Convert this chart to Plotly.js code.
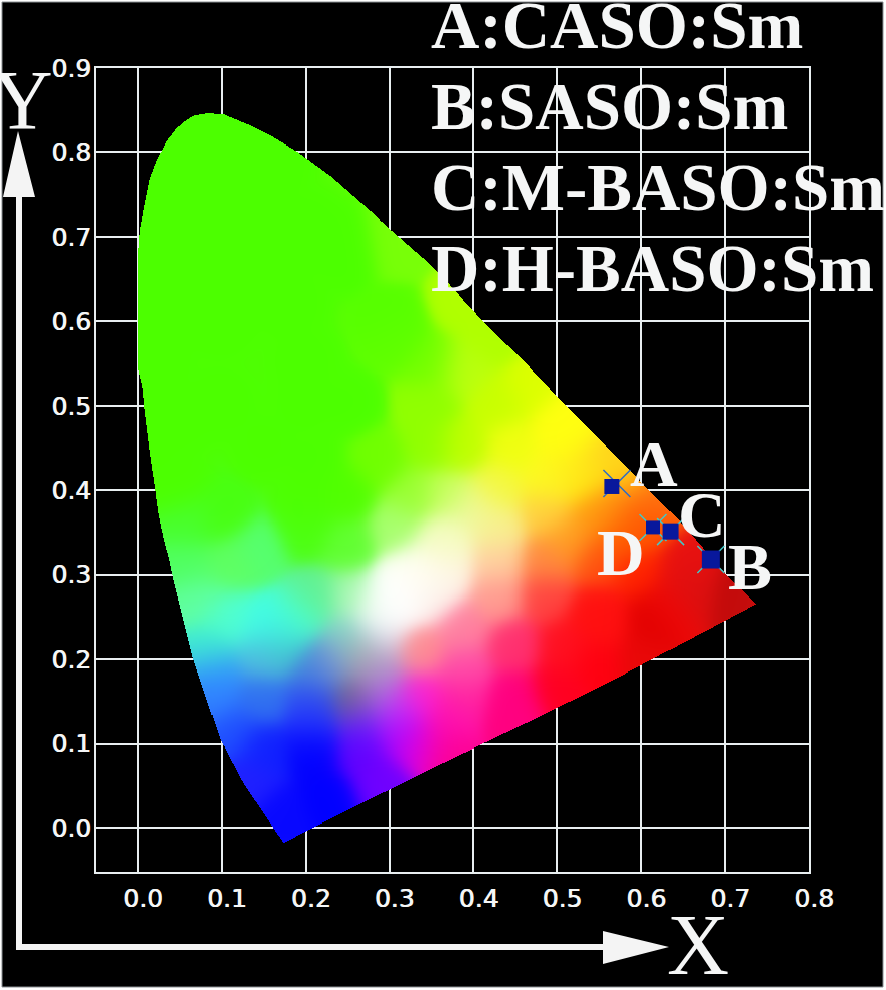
<!DOCTYPE html>
<html>
<head>
<meta charset="utf-8">
<script src="https://cdn.plot.ly/plotly-3.0.1.min.js"></script>
<style>
  html, body { margin: 0; padding: 0; background: #fff; overflow: hidden; }
  #chart { width: 886px; height: 990px; }
</style>
</head>
<body>
<div id="chart"></div>
<script>
// Outline of the colour region (clockwise from the top)
const outlineX = [.082,.101,.130,.157,.190,.230,.269,.301,.340,.372,.411,.459,.499,.553,.608,.646,.706,.737,
  .563,.467,.364,.244,.173,.125,.098,.066,.044,.037,.030,.024,.020,.014,.008,.005,.000,.000,.000,.002,.008,.014,.023,.035,.046,.054,.066];
const outlineY = [.846,.845,.833,.820,.800,.771,.737,.708,.674,.642,.600,.553,.511,.457,.401,.362,.294,.265,
  .173,.126,.077,.018,-.018,.053,.104,.199,.286,.318,.345,.374,.404,.445,.492,.523,.543,.626,.682,.707,.739,.769,.792,.814,.828,.835,.843];

// Colours at positions in chart units
const sampleX = [.08,.02,.20,.10,.30,.02,.15,.25,.05,.309,.309,.348,.387,.387,.428,.507,
  .209,.288,.348,.387,.447,.507,.535,.487,.428,.368,.328,.249,.249,.309,.368,.428,.487,.547,.547,.487,.428,.368,
  .309,.288,.348,.256,.209,.19,.173,.249,.268,.288,.336,.387,.428,.487,.547,.387,.447,.507,.547,.499,.447,.387,.336,.309,
  .256,.209,.173,.232,.288,.288,.209,.268,.368,.447,
  .110,.070,.110,.149,.082,.089,.149,.089,.149,.209,.110,.149,.209,.268,.309,.336,.368,.169,.229,.288,.130,
  .714,.73,.654,.634,.554,.595,.575,.595,.566,.602,.515,.515,.547,.61,.66,.60,
  .143,.06,.20,.05,.15,.25,.05,.18,.05,.10,.20,.35,.42,.47,.52,.58,.20,.10,.13,.03,.10,.20,.01,.06,
  .33,.36,.40,.32,.30,.34];
const sampleY = [.80,.70,.70,.60,.60,.55,.45,.50,.40,.581,.69,.502,.541,.62,.502,.482,
  .433,.433,.452,.452,.452,.452,.413,.413,.401,.393,.393,.393,.333,.354,.345,.354,.373,.373,.314,.314,.314,.302,
  .274,.255,.274,.274,.274,.25,.238,.226,.203,.226,.208,.235,.274,.274,.255,.187,.215,.215,.196,.164,.155,.155,.155,.136,
  .152,.187,.215,.196,.187,.155,.125,.125,.125,.125,
  .310,.270,.250,.238,.211,.184,.203,.152,.152,.152,.113,.093,.093,.093,.113,.101,.093,.013,.033,.053,.053,
  .274,.27,.302,.262,.243,.302,.342,.362,.381,.389,.342,.421,.437,.247,.28,.20,
  .326,.31,.35,.75,.78,.68,.62,.62,.48,.50,.55,.55,.58,.52,.47,.42,.38,.37,.66,.62,.72,.50,.45,.36,
  .30,.33,.375,.285,.265,.30];
const sampleColor = ["4cff00","4cff00","4cff00","4cff00","55ff00","4cff00","4cff00","4cff00","4cff00","60ff00","78ff08","90ff00","bbff10","b0ff00","c8ff00","ffff10",
  "4cff00","70ff00","90ff00","c0ff00","f0ff10","ffff10","ffee10","fcfc20","f4f840","c8ff60","98ff30","50ff00","60ff30","a8ff70","f4fcc0","f8f090","ffd040","ff9a10","ff5010","ff8a40","ffd0a0","fff4e8",
  "ffffff","f8fff8","fbeeea","a8f8b0","60f090","50ffc0","40ffe8","80d8c8","a0a0a0","e0e0f0","ff8c90","ff80a0","ff9a90","ff4040","ff1010","ff50a8","ff3070","ff1020","ff0010","ff0020","ff0080","ff20a0","ff20d0","c030ff",
  "706880","4080e0","40c0c8","8098d0","b090d0","b070e0","2030ff","6020ff","ff10b0","ff0080",
  "60ff60","60ffa0","50ffd0","40ffe8","40f0d0","3090ff","50b8e0","3080ff","3070f0","3050f0","2050ff","1020ff","0000ff","6000ff","a800ff","e000e0","ff0090","0808ff","0000ff","7000ff","2020ff",
  "c00808","c81010","e81010","f00808","ff1010","ff2000","ff6000","ff5000","ff8a10","ff7010","ffa020","ffe820","ffd020","e00000","d81010","e80808",
  "55ff70","50ff60","4cff10","4cff00","4cff00","4cff00","4cff00","4cff00","4cff00","4cff00","4cff00","70ff00","b0ff00","dcff00","ffff10","ffd818","4cff00","48ff10","4cff00","4cff00","4cff00","4cff00","4cff00","48ff30",
  "fffef0","f8fcc8","f0f8a0","ffffff","ffffff","fffff0"];

// The four marked compositions
const pointLabels = ["A", "B", "C", "D"];
const pointX = [0.565, 0.683, 0.635, 0.614];
const pointY = [0.4045, 0.318, 0.351, 0.356];
const crossX = [0.571, 0.683, 0.635, 0.614];
const crossY = [0.408, 0.318, 0.351, 0.356];
const squareSizes = [15, 18, 16, 14];
const crossColors = ["#2a6cc8", "#40c8c8", "#40c8c8", "#40c8c8"];

const legendLines = ["A:CASO:Sm", "B:SASO:Sm", "C:M-BASO:Sm", "D:H-BASO:Sm"];
const tickValues = [0, 0.1, 0.2, 0.3, 0.4, 0.5, 0.6, 0.7, 0.8, 0.9];
const tickLabels = ["0.0", "0.1", "0.2", "0.3", "0.4", "0.5", "0.6", "0.7", "0.8", "0.9"];

const W = 886, H = 990;
const M = { l: 96, r: 77, t: 68, b: 118 };
const lineColor = "#e8eef0";
const textColor = "#f5f6f6";

// page pixels -> paper units
const px = (x) => (x - M.l) / (W - M.l - M.r);
const py = (y) => (H - M.b - y) / (H - M.t - M.b);

function inside(x, y) {
  let hit = false;
  for (let i = 0, j = outlineX.length - 1; i < outlineX.length; j = i++) {
    if ((outlineY[i] > y) !== (outlineY[j] > y) &&
        x < (outlineX[j] - outlineX[i]) * (y - outlineY[i]) / (outlineY[j] - outlineY[i]) + outlineX[i]) {
      hit = !hit;
    }
  }
  return hit;
}

const sampleRgb = sampleColor.map((c) => [parseInt(c.slice(0, 2), 16), parseInt(c.slice(2, 4), 16), parseInt(c.slice(4, 6), 16)]);

// Blend the sampled colours for one cell of the image
const spread = 2 * 0.02 * 0.02;
function shade(x, y) {
  let r = 0, g = 0, b = 0, sum = 0;
  for (let k = 0; k < sampleX.length; k++) {
    const dx = x - sampleX[k], dy = y - sampleY[k];
    const d2 = dx * dx + dy * dy;
    const w = Math.exp(-d2 / spread) + 1e-7 / (d2 * d2 + 1e-4);
    r += w * sampleRgb[k][0];
    g += w * sampleRgb[k][1];
    b += w * sampleRgb[k][2];
    sum += w;
  }
  return [r / sum, g / sum, b / sum, 1];
}

const cell = 0.0012;
const x0 = -0.002, y0 = -0.022;
const cols = 620, rows = 730;
const z = [];
for (let i = 0; i < rows; i++) {
  const row = [];
  const y = y0 + i * cell;
  for (let j = 0; j < cols; j++) {
    const x = x0 + j * cell;
    row.push(inside(x, y) ? shade(x, y) : [0, 0, 0, 0]);
  }
  z.push(row);
}

const gamut = { type: "image", z: z, colormodel: "rgba", x0: x0, y0: y0, dx: cell, dy: cell, hoverinfo: "skip" };

const crosses = {
  type: "scatter", mode: "markers", x: crossX, y: crossY, text: pointLabels, hoverinfo: "skip",
  marker: { symbol: "x-thin", size: 27, opacity: 1, line: { width: 1.5, color: crossColors } }
};

const squares = {
  type: "scatter", mode: "markers", x: pointX, y: pointY, text: pointLabels, hoverinfo: "skip",
  marker: { symbol: "square", size: squareSizes, opacity: 1, color: "#08189c", line: { width: 0 } }
};

const serif = (size) => ({ family: "Liberation Serif", size: size, color: textColor });

function textAt(text, x, baseline, size, weight) {
  // middle anchor: shift from baseline to the centre of the text box
  return {
    text: weight ? "<b>" + text + "</b>" : text,
    xref: "paper", yref: "paper", x: px(x), y: py(baseline - size * 0.345),
    xanchor: "left", yanchor: "middle", showarrow: false, font: serif(size), borderpad: 0
  };
}

const annotations = [
  textAt(legendLines[0], 430, 48, 67, true),
  textAt(legendLines[1], 430, 129, 67, true),
  textAt(legendLines[2], 430, 210, 67, true),
  textAt(legendLines[3], 430, 291, 67, true),
  textAt(pointLabels[0], 629, 486, 66, true),
  textAt(pointLabels[1], 727, 589, 66, true),
  textAt(pointLabels[2], 677, 537, 66, true),
  textAt(pointLabels[3], 596, 575, 66, true),
  textAt("X", 666, 975, 86, false),
  textAt("Y", -9, 129, 84, false)
];

function polygon(points) {
  return "M" + points.map((p) => px(p[0]) + "," + py(p[1])).join("L") + "Z";
}

const arrowShape = (points) => ({
  type: "path", xref: "paper", yref: "paper", path: polygon(points),
  fillcolor: "#f4f4f4", line: { width: 0 }, layer: "above"
});

const shapes = [
  { type: "rect", xref: "paper", yref: "paper", x0: px(2), x1: px(883), y0: py(987), y1: py(2),
    fillcolor: "#000", line: { color: "#8a8f93", width: 1 }, layer: "below" },
  arrowShape([[18, 131], [35, 197], [22, 197], [22, 944], [603, 944], [603, 931], [669, 947], [603, 964], [603, 950], [16, 950], [16, 197], [3, 197]])
];

const axisBase = {
  tickmode: "array", tickvals: tickValues, ticktext: tickLabels,
  showgrid: true, gridcolor: lineColor, gridwidth: 2, zeroline: false,
  showline: true, linecolor: lineColor, linewidth: 2, mirror: true, ticks: "",
  tickfont: { family: "DejaVu Sans", size: 25, color: textColor, shadow: "0.7px 0 0 #f5f6f6" },
  scaleanchor: false, automargin: false
};

const layout = {
  width: W, height: H,
  margin: M,
  paper_bgcolor: "#fff", plot_bgcolor: "#000",
  showlegend: false,
  hovermode: false,
  xaxis: Object.assign({}, axisBase, { range: [-0.05, 0.8], ticklabelshift: 5, ticklabelstandoff: 3 }),
  yaxis: Object.assign({}, axisBase, { range: [-0.052, 0.9], ticklabelstandoff: -2 }),
  shapes: shapes,
  annotations: annotations
};

Plotly.newPlot("chart", [gamut, crosses, squares], layout, { displayModeBar: false, staticPlot: true });
</script>
</body>
</html>
